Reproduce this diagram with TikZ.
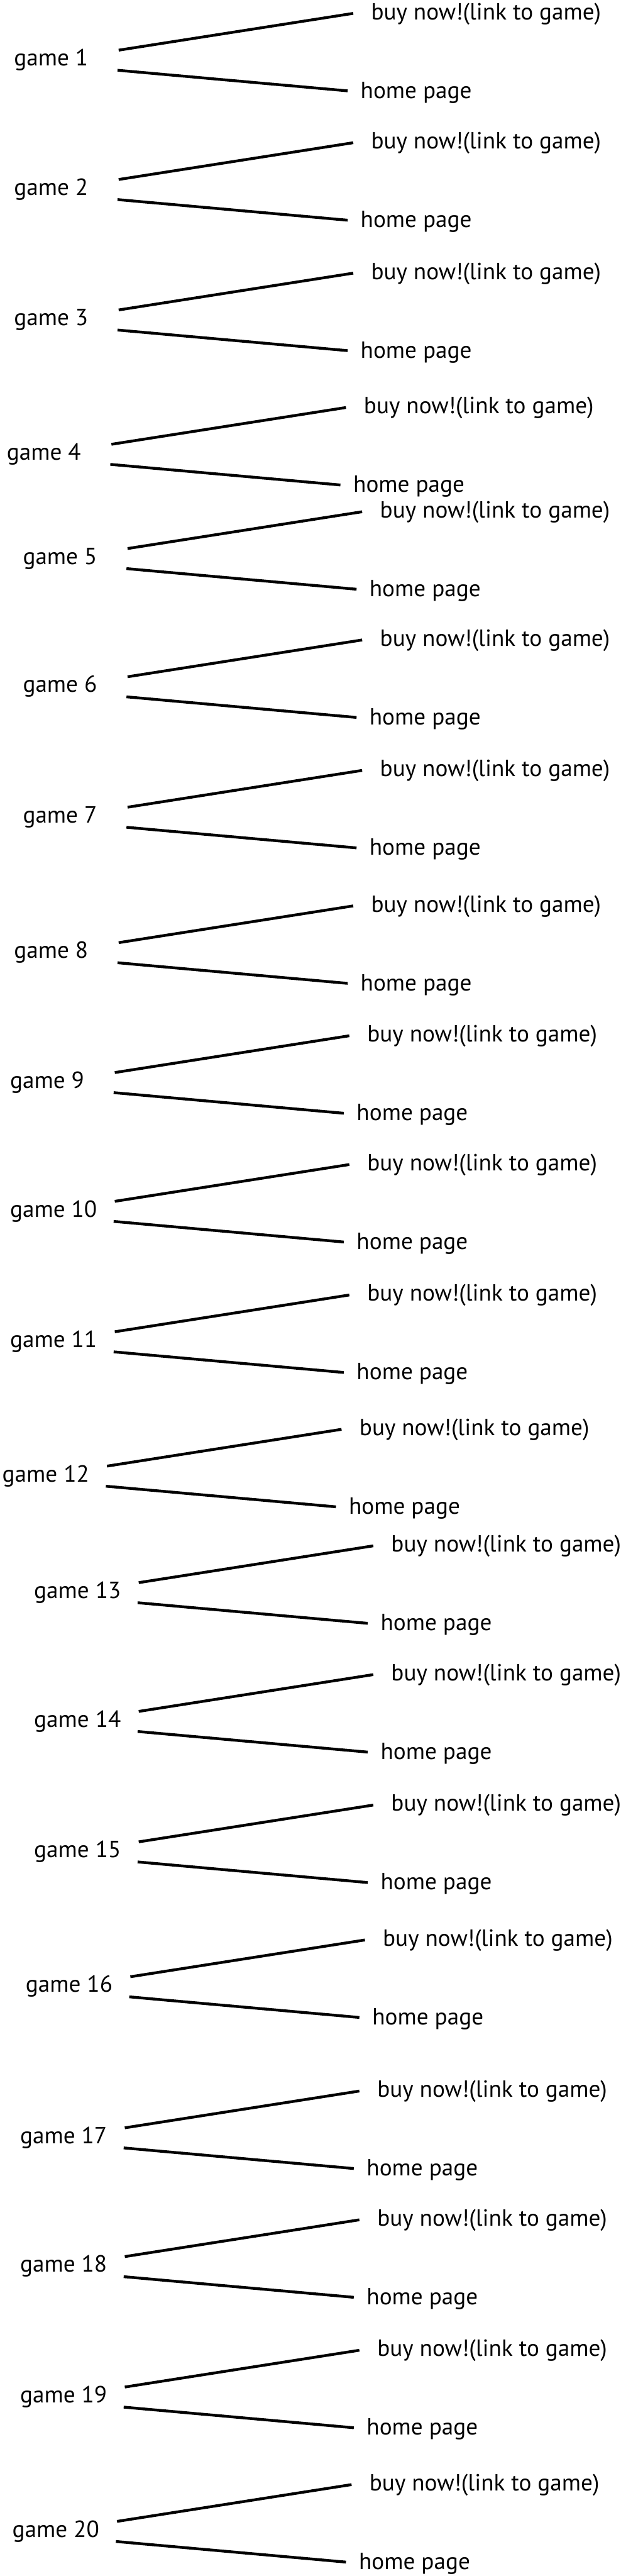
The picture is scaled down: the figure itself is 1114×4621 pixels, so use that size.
\documentclass[tikz,border=0pt]{standalone}
\usepackage{fontspec}
\setmainfont{PT Sans}
\tikzset{
  lbl/.style={anchor=base west, inner sep=0pt, font=\fontsize{42}{46}\selectfont},
  link/.style={line width=5pt, line cap=butt, black}
}
\begin{document}
\begin{tikzpicture}[x=1pt,y=-1pt]
\useasboundingbox[fill=white] (0,0) rectangle (1114,4621);
\foreach \i/\x/\y in {1/213/90, 2/213/322, 3/213/556, 4/200/797, 5/229/984,
  6/229/1214, 7/229/1448, 8/213/1691, 9/206/1924, 10/206/2155,
  11/206/2389, 12/192/2630, 13/249/2839, 14/249/3070, 15/249/3304,
  16/234/3546, 17/224/3817, 18/224/4048, 19/224/4282, 20/210/4523}{
  \begin{scope}[shift={(\x,\y)}]
    \node[lbl] (g\i) at (-188,28) {game \i};
    \node[lbl] (b\i) at (453,-55) {buy now!(link to game)};
    \node[lbl] (h\i) at (434,86) {home page};
    \coordinate (gu\i) at (0,0);
    \coordinate (bu\i) at (421,-66);
    \coordinate (gl\i) at (-2,36);
    \coordinate (hl\i) at (411,73);
    \draw[link] (gu\i) -- (bu\i);
    \draw[link] (gl\i) -- (hl\i);
  \end{scope}
}
\end{tikzpicture}
\end{document}
